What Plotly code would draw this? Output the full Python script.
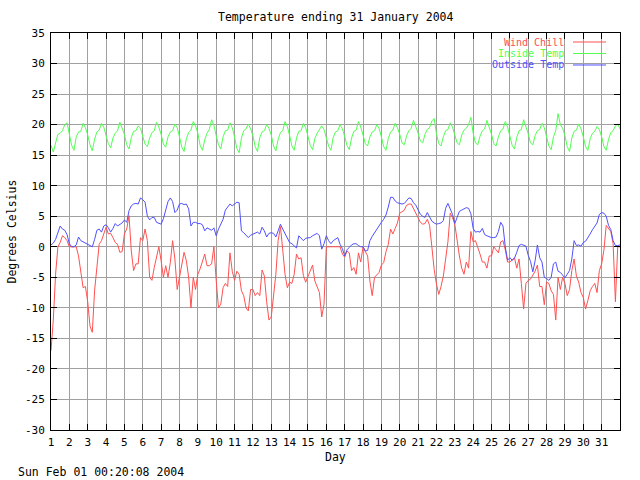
import numpy as np
import plotly.graph_objects as go

# ---- data (8 samples per day, starting day 1.0) ----
samples_per_day = 8
first_day = 1

wind_chill = [
    -17, -12, -4.5, 0, 0.7, 1.8, 1.5, 1.0,
    0, 0, 0, 0, -1.5, -4, -6.7, -6.5,
    -9, -13, -14, -7.2, -3.5, 0.4, 1.0, 2.1,
    3.2, 2.1, 2.2, 1.5, 0.7, 0.4, -0.9, -0.8,
    2.1, 2.9, 5.1, -0.7, -3.9, -2.8, -2.8, 1.5,
    1.0, 2.9, 1.0, -5, -5.5, -3.4, -1.7, 0,
    -2.3, -5, -3.1, -5, -2.6, 1.0, -2, -7,
    -5, -3, -0.9, -2.3, -5, -10, -5, -7,
    -4.5, -3.6, -2.5, -1.2, -3.1, -3.1, -2.8, 0,
    -5.5, -10, -9.4, -6.7, -6, -6.5, -1.0, -4,
    -5.5, -4, -4.5, -7.2, -8.0, -10, -10.5, -7,
    -7, -8, -7.5, -8, -3.8, -4.8, -9, -12,
    -11.5, -8, -4.5, 1.0, 3.3, -0.5, -4.5, -6.7,
    -5.8, -6.0, -4.5, -1.2, -2, -1.8, -4.7, -5.8,
    -4.8, -4, -3, -5.6, -6.7, -7.5, -11.5, -9.4,
    0, 0, 0, 0, 0, 0, 0, -1.2,
    -1.7, -0.7, -1.0, -3.9, -3.4, -4.5, -1.0, -2.5,
    0, -0.8, -1.5, -5.6, -8, -5, -4.5, -4.2,
    -3, -2.6, -0.8, 0.4, 2.9, 2.1, 3.0, 3.9,
    5.5, 5.8, 6.0, 6.8, 7.0, 7.0, 6.2, 5.5,
    4.7, 4.0, 3.7, 3.8, 4.5, 3.5, 0, -3.7,
    -6.1, -7.8, -6.5, -4.8, -2, 0.8, 5.5, 4.8,
    3.7, 1.0, -1.5, -3.5, -4.5, -2.5, -3.5, 2.5,
    0.8, 1.0, 0, -1.2, -2.5, -2.5, -3.5, -1.5,
    -1.5, 0, -0.5, -1.0, 0.8, 1.0, -0.5, -2.5,
    -2.5, -2.2, -1.8, -3.5, -2.0, -6, -10.2, -6,
    -5.5, -5.3, -4.6, -4.0, -3.0, -6.5, -6.5, -9.5,
    -5.8, -6, -7.2, -7.8, -12, -5, -7, -5,
    -6, -8, -7, -3.9, -2.0, -4.8, -5.8, -7.5,
    -8.3, -10.2, -8.8, -7.2, -6.5, -6.0, -7.5, -3.9,
    -2.8, -0.5, 3.5, 3.0, 2.5, 0.5, -9, 0,
    0,
]

inside_temp = [
    16.6, 15.5, 17.0, 18.4, 18.6, 19.0, 20.0, 20.3,
    18.4, 16.6, 15.8, 18.0, 18.8, 18.9, 20.2, 19.5,
    18.3, 16.7, 15.7, 17.6, 18.8, 19.1, 20.2, 19.6,
    18.2, 16.9, 16.2, 17.8, 18.6, 19.0, 20.4, 19.5,
    18.4, 16.7, 16.0, 17.9, 18.9, 19.0, 19.8, 19.4,
    18.1, 16.8, 16.4, 17.8, 18.7, 19.0, 20.4, 19.6,
    18.4, 16.8, 16.3, 18.0, 18.8, 19.0, 20.1, 19.5,
    18.0, 16.3, 15.6, 17.7, 18.7, 19.1, 20.5, 19.8,
    18.6, 16.6, 15.8, 17.5, 18.6, 19.2, 20.8, 19.9,
    18.2, 16.7, 16.0, 18.0, 19.0, 19.1, 20.3, 19.5,
    18.0, 16.1, 15.4, 17.8, 19.0, 19.3, 20.1, 19.3,
    18.2, 16.4, 15.6, 17.9, 18.8, 19.0, 20.0, 19.4,
    18.3, 16.5, 15.7, 17.6, 18.7, 19.0, 20.5, 19.7,
    18.2, 16.5, 15.8, 17.8, 18.9, 19.0, 20.2, 19.5,
    18.1, 16.6, 15.9, 17.7, 18.6, 19.1, 19.8, 19.2,
    18.0, 16.5, 15.8, 17.9, 18.8, 19.0, 20.0, 19.3,
    18.1, 16.6, 15.9, 17.8, 18.9, 19.1, 20.5, 19.6,
    18.3, 16.9, 16.5, 18.0, 18.8, 19.0, 20.0, 19.4,
    18.0, 16.4, 15.8, 17.7, 18.8, 19.1, 20.2, 19.5,
    18.4, 17.0, 16.7, 18.2, 19.0, 19.4, 20.7, 19.8,
    18.6, 17.3, 17.0, 18.4, 19.2, 19.5, 20.6, 21.0,
    18.5, 16.9, 16.5, 18.0, 19.0, 19.2, 20.3, 19.6,
    18.4, 17.0, 16.7, 18.3, 19.1, 19.4, 20.0, 21.2,
    18.6, 17.0, 16.7, 18.1, 19.0, 19.3, 20.7, 19.7,
    18.4, 16.9, 16.5, 18.0, 19.0, 19.3, 20.5, 19.6,
    18.3, 16.6, 16.0, 17.9, 19.0, 19.2, 20.8, 19.8,
    18.5, 17.0, 16.7, 18.2, 19.0, 19.2, 20.2, 19.5,
    18.2, 16.5, 15.9, 18.0, 19.0, 21.8, 20.0, 19.4,
    18.2, 16.4, 15.6, 17.8, 18.9, 19.1, 20.1, 19.3,
    18.0, 16.4, 15.8, 17.7, 18.6, 18.9, 19.7, 19.2,
    18.0, 16.4, 15.8, 17.6, 18.7, 19.0, 19.8, 20.1,
    19.3,
]

outside_temp = [
    0.3, 0.6, 1.2, 2.3, 3.4, 2.9, 2.7, 2.0,
    0.5, 0.0, 0.0, 0.3, 1.6, 1.0, 0.8, 0.6,
    0.4, 0.2, 0.0, 1.2, 2.7, 2.9, 2.4, 3.4,
    3.6, 3.1, 2.4, 3.0, 3.8, 3.4, 3.6, 3.9,
    4.4, 4.0, 5.9, 6.7, 7.0, 7.1, 7.0, 8.0,
    7.7, 7.3, 5.0, 4.4, 4.8, 4.8, 4.0, 3.9,
    3.7, 4.6, 6.2, 7.4, 8.0, 7.4, 5.6, 6.0,
    7.0, 7.1, 6.9, 7.0, 6.2, 3.4, 4.0, 4.0,
    3.8, 3.8, 3.6, 2.6, 3.1, 2.9, 2.7, 3.1,
    1.8, 2.9, 3.8, 4.5, 6.0, 6.6, 7.0, 6.7,
    7.0, 7.3, 7.2, 2.6, 2.3, 1.8, 1.5, 1.9,
    2.1, 2.3, 2.4, 2.1, 3.2, 2.6, 1.6, 2.2,
    2.3, 2.2, 1.6, 2.6, 3.7, 2.9, 2.2, 1.5,
    0.7, 0.5, 0.1, -0.2, 1.8, 1.3, 1.0, 1.4,
    1.5, 1.5, 1.8, 2.0, 2.2, 1.8, -0.4, 0.5,
    1.8, 1.0, 0.5, 1.0, 1.2, 1.5, 0.4, -0.3,
    -1.5, -0.5, -0.1, 0.3, 0.5, 0.5, 0.2, 0.0,
    0.0, -0.7, -0.6, 1.0, 1.7, 2.3, 3.0, 3.6,
    4.0, 4.5, 5.2, 6.5, 8.1, 8.1, 7.5, 7.2,
    7.1, 7.0, 7.1, 7.6, 8.0, 7.9, 7.2, 6.8,
    6.0, 5.3, 5.0, 4.8, 5.6, 4.8, 4.2, 3.9,
    3.7, 3.8, 3.9, 4.3, 6.3, 7.1, 6.3, 5.3,
    3.8, 5.0, 5.8, 6.0, 6.2, 6.4, 6.3, 5.4,
    3.0, 2.4, 2.5, 2.4, 3.0, 2.0, 1.8, 1.6,
    1.5, 1.5, 1.6, 2.5, 4.0, 3.4, 0.0, -2.2,
    -1.8, -2.2, -1.9, -0.9, 0.2, 0.4, 0.2, 0.1,
    -1.4, -2.4, -4.1, -2.3, 0.3, -1.8, -2.5, -5.0,
    -5.2, -5.5, -5.0, -2.8, -2.5, -4.0, -4.2, -4.6,
    -5.1, -4.5, -3.9, -2.0, 1.0, 0.2, 0.3, 0.1,
    0.7, 0.9, 1.4, 2.1, 2.8, 3.3, 3.9, 5.3,
    5.6, 5.5, 5.0, 3.5, 2.8, 1.0, 0.2, 0.2,
    0.3,
]

day_ticks = list(range(1, 32))
y_ticks = list(range(-30, 36, 5))
series_names = ["Wind Chill", "Inside Temp", "Outside Temp"]
series_colors = ["#ff5050", "#50ff50", "#5050ff"]

day = first_day + np.arange(len(outside_temp)) / samples_per_day

FONT = "DejaVu Sans Mono"
fig = go.Figure()
for name, vals, col in zip(series_names, [wind_chill, inside_temp, outside_temp], series_colors):
    fig.add_trace(go.Scatter(x=day, y=vals, mode="lines", name=name,
                             line=dict(color=col, width=1), showlegend=False))

axis_common = dict(
    showline=True, linecolor="black", linewidth=1, mirror="ticks",
    ticks="inside", ticklen=6, tickcolor="black", tickwidth=1,
    showgrid=True, gridcolor="#a0a0a0", gridwidth=1, zeroline=False,
    tickfont=dict(family=FONT, size=11, color="black"),
)
fig.update_xaxes(range=[1, 32], tickvals=day_ticks, ticktext=[str(d) for d in day_ticks],
                 ticklabelstandoff=2, **axis_common)
fig.update_yaxes(range=[-30, 35], tickvals=y_ticks, ticktext=[str(v) for v in y_ticks],
                 ticklabelstandoff=3, **axis_common)

ann = [
    dict(text="Temperature ending 31 January 2004", xref="paper", yref="paper",
         x=0.5, y=1, yshift=16, xanchor="center", yanchor="middle", showarrow=False),
    dict(text="Day", xref="paper", yref="paper", x=0.5, y=0, yshift=-27,
         xanchor="center", yanchor="middle", showarrow=False),
    dict(text="Degrees Celsius", xref="paper", yref="paper", x=0, y=0.5, xshift=-40,
         textangle=-90, xanchor="center", yanchor="middle", showarrow=False),
    dict(text="Sun Feb 01 00:20:08 2004", xref="paper", yref="paper", x=0, y=0,
         xshift=-35, yshift=-42, xanchor="left", yanchor="middle", showarrow=False),
]
shapes = []
legend_rows = [0.9773, 0.9484, 0.9194]
for name, col, yy in zip(series_names, series_colors, legend_rows):
    ann.append(dict(text=name, xref="paper", yref="paper", x=0.9033, y=yy,
                    xanchor="right", yanchor="middle", showarrow=False, borderpad=0,
                    font=dict(family=FONT, size=10, color=col)))
    shapes.append(dict(type="line", xref="paper", yref="paper", x0=0.9174, x1=0.9754,
                       y0=yy, y1=yy, line=dict(color=col, width=1)))

fig.update_layout(
    width=640, height=480,
    margin=dict(l=51, r=20, t=33, b=50),
    paper_bgcolor="white", plot_bgcolor="white",
    font=dict(family=FONT, size=11.5, color="black"),
    annotations=ann, shapes=shapes,
)

fig.write_html("out.html", config={"displayModeBar": False},
               post_script="document.body.style.margin='0';")
